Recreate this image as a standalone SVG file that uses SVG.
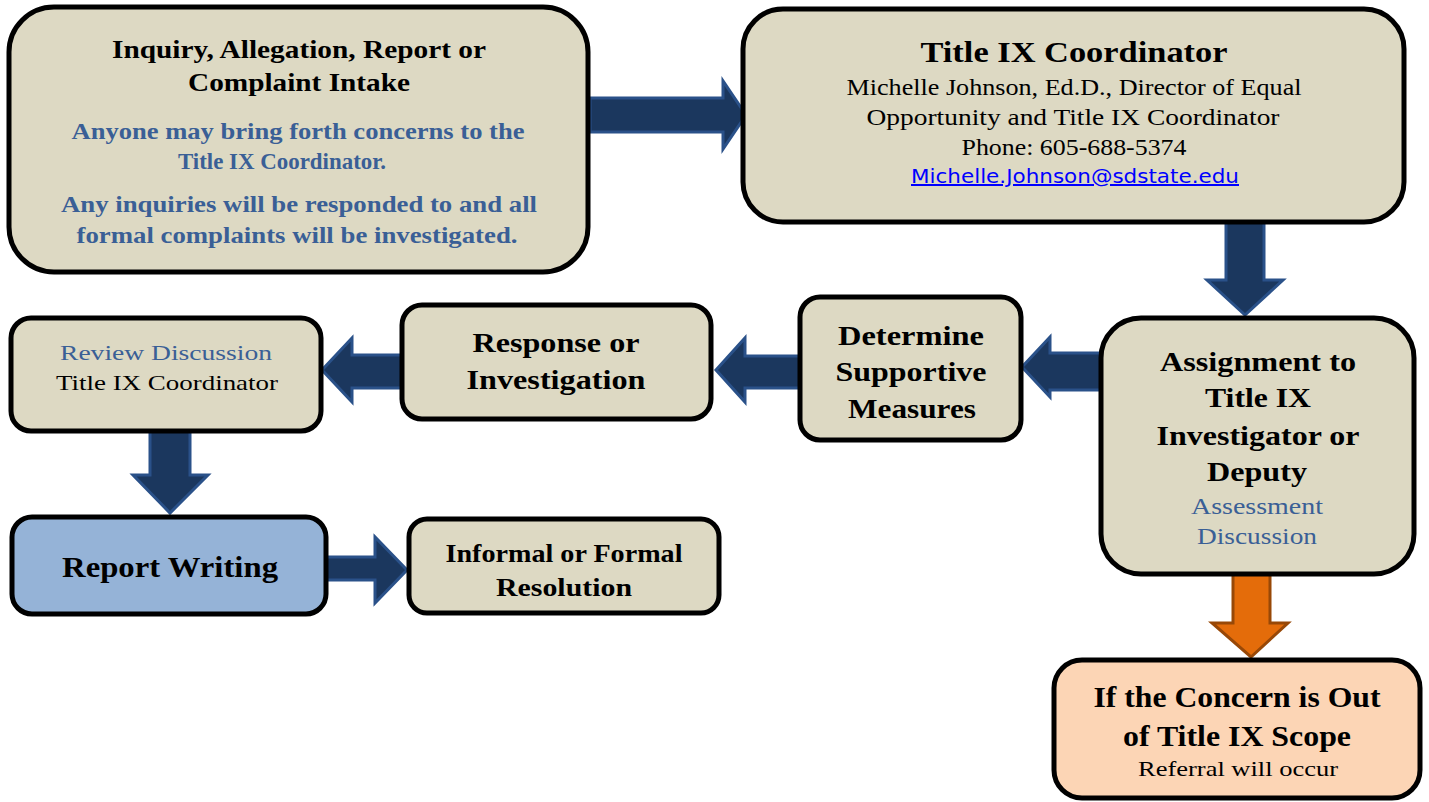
<svg xmlns="http://www.w3.org/2000/svg" width="1429" height="802" viewBox="0 0 1429 802">
<style>
.box{fill:#DDD9C3;stroke:#000;stroke-width:5}
.arr{fill:#1B375E;stroke:#2A5189;stroke-width:3;stroke-linejoin:miter}
.oarr{fill:#E46C0A;stroke:#984807;stroke-width:3}
text{font-family:"Liberation Serif","DejaVu Serif",serif;text-anchor:middle;fill:#000}
.h{font-weight:bold}
.b{fill:#3A5F96;font-weight:bold}
.bn{fill:#3A5F96}
.link{font-family:"DejaVu Sans","Liberation Sans",sans-serif;fill:#0000FF;text-decoration:underline}
</style>
<rect width="1429" height="802" fill="#fff"/>
<g id="connectors">
<path class="arr" d="M590,98 H723 V81 L746,115 L723,149 V132 H590 Z"/>
<path class="arr" d="M1226,222 V280 H1207 L1245,315 L1283,280 H1264 V222 Z"/>
<path class="arr" d="M1101,353 H1050 V337 L1022,367 L1050,397 V390 H1101 Z"/>
<path class="arr" d="M800,356 H745 V338 L716,370 L745,402 V388 H800 Z"/>
<path class="arr" d="M402,355 H352 V338 L322,370 L352,402 V388 H402 Z"/>
<path class="arr" d="M150,431 V475 H133 L170,513 L208,475 H190 V431 Z"/>
<path class="arr" d="M326,557 H375 V537 L407,570 L375,603 V580 H326 Z"/>
<path class="oarr" d="M1233,574 V623 H1212 L1251,657 L1288,623 H1270 V574 Z"/>
</g>
<g id="intake">
<rect class="box" x="9" y="7" width="579" height="265" rx="45"/>
<text class="h" x="299" y="58" font-size="26" textLength="374" lengthAdjust="spacingAndGlyphs">Inquiry, Allegation, Report or</text>
<text class="h" x="299" y="91" font-size="26" textLength="222" lengthAdjust="spacingAndGlyphs">Complaint Intake</text>
<text class="b" x="298" y="139" font-size="24" textLength="453" lengthAdjust="spacingAndGlyphs">Anyone may bring forth concerns to the</text>
<text class="b" x="282" y="169" font-size="24" textLength="208" lengthAdjust="spacingAndGlyphs">Title IX Coordinator.</text>
<text class="b" x="299" y="212" font-size="24" textLength="476" lengthAdjust="spacingAndGlyphs">Any inquiries will be responded to and all</text>
<text class="b" x="297" y="243" font-size="24" textLength="441" lengthAdjust="spacingAndGlyphs">formal complaints will be investigated.</text>
</g>
<g id="coordinator">
<rect class="box" x="743" y="9" width="661" height="213" rx="40"/>
<text class="h" x="1074" y="62" font-size="30" textLength="307" lengthAdjust="spacingAndGlyphs">Title IX Coordinator</text>
<text x="1074" y="95" font-size="23" textLength="455" lengthAdjust="spacingAndGlyphs">Michelle Johnson, Ed.D., Director of Equal</text>
<text x="1073" y="125" font-size="23" textLength="413" lengthAdjust="spacingAndGlyphs">Opportunity and Title IX Coordinator</text>
<text x="1074" y="155" font-size="23" textLength="225" lengthAdjust="spacingAndGlyphs">Phone: 605-688-5374</text>
<text class="link" x="1075" y="183" font-size="20" textLength="328" lengthAdjust="spacingAndGlyphs">Michelle.Johnson@sdstate.edu</text>
</g>
<g id="assignment">
<rect class="box" x="1101" y="318" width="313" height="256" rx="40"/>
<text class="h" x="1258" y="371" font-size="28" textLength="196" lengthAdjust="spacingAndGlyphs">Assignment to</text>
<text class="h" x="1258" y="407" font-size="28" textLength="106" lengthAdjust="spacingAndGlyphs">Title IX</text>
<text class="h" x="1258" y="445" font-size="28" textLength="203" lengthAdjust="spacingAndGlyphs">Investigator or</text>
<text class="h" x="1257" y="481" font-size="28" textLength="100" lengthAdjust="spacingAndGlyphs">Deputy</text>
<text class="bn" x="1257" y="514" font-size="24" textLength="132" lengthAdjust="spacingAndGlyphs">Assessment</text>
<text class="bn" x="1257" y="544" font-size="24" textLength="120" lengthAdjust="spacingAndGlyphs">Discussion</text>
</g>
<g id="supportive">
<rect class="box" x="800" y="297" width="221" height="143" rx="20"/>
<text class="h" x="911" y="345" font-size="27" textLength="146" lengthAdjust="spacingAndGlyphs">Determine</text>
<text class="h" x="911" y="381" font-size="27" textLength="151" lengthAdjust="spacingAndGlyphs">Supportive</text>
<text class="h" x="912" y="418" font-size="27" textLength="128" lengthAdjust="spacingAndGlyphs">Measures</text>
</g>
<g id="response">
<rect class="box" x="402" y="305" width="309" height="114" rx="20"/>
<text class="h" x="556" y="352" font-size="28" textLength="167" lengthAdjust="spacingAndGlyphs">Response or</text>
<text class="h" x="556" y="389" font-size="28" textLength="179" lengthAdjust="spacingAndGlyphs">Investigation</text>
</g>
<g id="review">
<rect class="box" x="11" y="318" width="310" height="113" rx="20"/>
<text class="bn" x="166" y="360" font-size="22" textLength="212" lengthAdjust="spacingAndGlyphs">Review Discussion</text>
<text x="167" y="390" font-size="22" textLength="222" lengthAdjust="spacingAndGlyphs">Title IX Coordinator</text>
</g>
<g id="report">
<rect class="box" x="12" y="517" width="314" height="97" rx="20" style="fill:#95B3D7"/>
<text class="h" x="170" y="577" font-size="29" textLength="216" lengthAdjust="spacingAndGlyphs">Report Writing</text>
</g>
<g id="resolution">
<rect class="box" x="409" y="519" width="310" height="94" rx="18"/>
<text class="h" x="564" y="562" font-size="26" textLength="237" lengthAdjust="spacingAndGlyphs">Informal or Formal</text>
<text class="h" x="564" y="596" font-size="26" textLength="136" lengthAdjust="spacingAndGlyphs">Resolution</text>
</g>
<g id="outofscope">
<rect class="box" x="1054" y="660" width="366" height="138" rx="28" style="fill:#FCD5B5"/>
<text class="h" x="1237" y="707" font-size="29" textLength="287" lengthAdjust="spacingAndGlyphs">If the Concern is Out</text>
<text class="h" x="1237" y="746" font-size="29" textLength="228" lengthAdjust="spacingAndGlyphs">of Title IX Scope</text>
<text x="1238" y="776" font-size="22" textLength="200" lengthAdjust="spacingAndGlyphs">Referral will occur</text>
</g>
</svg>
